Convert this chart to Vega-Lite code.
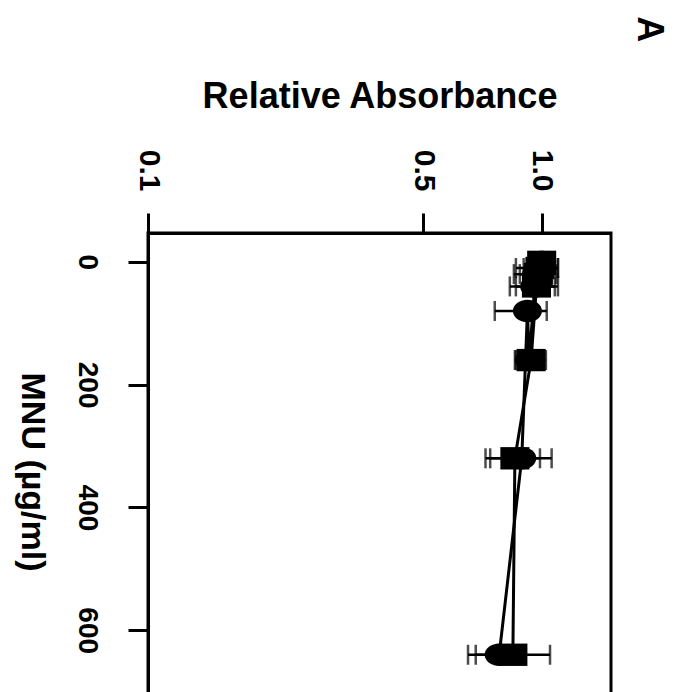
{
  "$schema": "https://vega.github.io/schema/vega-lite/v6.json",
  "autosize": {"type": "none"},
  "padding": {"left": 148, "top": 233, "right": 70, "bottom": 0},
  "width": 463,
  "height": 477,
  "background": "white",
  "title": {
    "text": "A",
    "angle": 90,
    "anchor": "end",
    "frame": "group",
    "font": "Liberation Sans",
    "fontSize": 36,
    "fontWeight": "bold",
    "color": "black",
    "dx": -10,
    "dy": -55,
    "offset": 0
  },
  "config": {
    "view": {"stroke": "black", "strokeWidth": 3},
    "axis": {
      "labelFont": "Liberation Sans",
      "labelFontWeight": "bold",
      "labelColor": "black",
      "titleFont": "Liberation Sans",
      "titleFontWeight": "bold",
      "titleColor": "black",
      "domainColor": "black",
      "domainWidth": 3,
      "tickColor": "black",
      "tickWidth": 3,
      "tickSize": 20,
      "grid": false
    }
  },
  "data": {
    "values": [
      {"dose": 0, "series": "circle", "mean": 1.0, "lo": 0.93, "hi": 1.07},
      {"dose": 10, "series": "circle", "mean": 0.98, "lo": 0.86, "hi": 1.10},
      {"dose": 20, "series": "circle", "mean": 0.97, "lo": 0.85, "hi": 1.06},
      {"dose": 40, "series": "circle", "mean": 0.96, "lo": 0.83, "hi": 1.08},
      {"dose": 80, "series": "circle", "mean": 0.92, "lo": 0.76, "hi": 1.03},
      {"dose": 160, "series": "circle", "mean": 0.93, "lo": 0.86, "hi": 1.01},
      {"dose": 320, "series": "circle", "mean": 0.89, "lo": 0.74, "hi": 1.06},
      {"dose": 640, "series": "circle", "mean": 0.78, "lo": 0.68, "hi": 0.88},
      {"dose": 0, "series": "square", "mean": 1.0, "lo": 0.95, "hi": 1.05},
      {"dose": 10, "series": "square", "mean": 0.99, "lo": 0.90, "hi": 1.10},
      {"dose": 20, "series": "square", "mean": 0.98, "lo": 0.88, "hi": 1.09},
      {"dose": 40, "series": "square", "mean": 0.97, "lo": 0.86, "hi": 1.10},
      {"dose": 160, "series": "square", "mean": 0.94, "lo": 0.855, "hi": 1.025},
      {"dose": 320, "series": "square", "mean": 0.855, "lo": 0.72, "hi": 0.99},
      {"dose": 640, "series": "square", "mean": 0.845, "lo": 0.65, "hi": 1.05}
    ]
  },
  "encoding": {
    "y": {
      "field": "dose",
      "type": "quantitative",
      "scale": {"domain": [-47, 730], "reverse": true, "nice": false, "zero": false},
      "axis": {
        "values": [0, 200, 400, 600],
        "labelAngle": 90,
        "labelFontSize": 28,
        "labelPadding": 28,
        "title": "MNU (µg/ml)",
        "titleAngle": 90,
        "titleFontSize": 34,
        "titlePadding": 58
      }
    }
  },
  "layer": [
    {
      "mark": {"type": "errorbar", "ticks": {"size": 20, "thickness": 2.5, "color": "black"}, "rule": {"strokeWidth": 2.5, "color": "black"}},
      "encoding": {
        "x": {"field": "lo", "type": "quantitative", "title": "Relative Absorbance", "scale": {"type": "log", "domain": [0.1, 1.5], "nice": false}},
        "x2": {"field": "hi"},
        "detail": {"field": "series"}
      }
    },
    {
      "mark": {"type": "line", "color": "black", "strokeWidth": 3},
      "encoding": {
        "x": {"field": "mean", "type": "quantitative", "title": "Relative Absorbance"},
        "detail": {"field": "series"}
      }
    },
    {
      "mark": {"type": "point", "filled": true, "opacity": 1, "color": "black", "size": 500},
      "encoding": {
        "x": {
          "field": "mean",
          "type": "quantitative",
          "title": "Relative Absorbance",
          "scale": {"type": "log", "domain": [0.1, 1.5], "nice": false},
          "axis": {
            "orient": "top",
            "values": [0.1, 0.5, 1.0],
            "format": ".1f",
            "labelAngle": 90,
            "labelFontSize": 30,
            "labelPadding": 22,
            "title": "Relative Absorbance",
            "titleFontSize": 36,
            "titlePadding": 34
          }
        },
        "shape": {
          "field": "series",
          "type": "nominal",
          "scale": {
            "domain": ["circle", "square"],
            "range": ["M-1.3,0 A1.3,1 0 1,0 1.3,0 A1.3,1 0 1,0 -1.3,0 Z", "M-1.3,-1 L1.3,-1 L1.3,1 L-1.3,1 Z"]
          },
          "legend": null
        }
      }
    }
  ]
}
